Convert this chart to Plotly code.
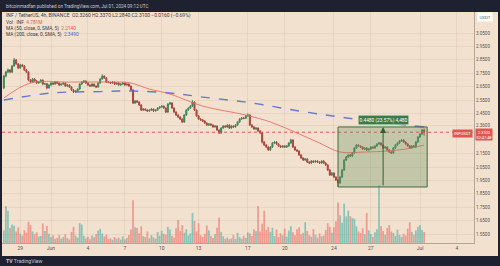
import pandas as pd
import plotly.graph_objects as go

# ---------------- data ----------------
times = pd.date_range("2024-05-28 04:00", periods=206, freq="4h")

opens = [
    2.640, 2.729, 2.759, 2.774, 2.759, 2.804, 2.849, 2.819, 2.789, 2.811,
    2.804, 2.774, 2.759, 2.699, 2.684, 2.707, 2.692, 2.677, 2.684, 2.699,
    2.669, 2.672, 2.640, 2.662, 2.677, 2.669, 2.684, 2.677, 2.662, 2.669,
    2.677, 2.654, 2.662, 2.647, 2.625, 2.610, 2.617, 2.632, 2.669, 2.684,
    2.692, 2.677, 2.662, 2.654, 2.669, 2.654, 2.647, 2.677, 2.707, 2.729,
    2.714, 2.684, 2.681, 2.677, 2.684, 2.669, 2.677, 2.662, 2.669, 2.677,
    2.662, 2.669, 2.654, 2.625, 2.528, 2.543, 2.535, 2.513, 2.475, 2.483,
    2.475, 2.468, 2.475, 2.483, 2.468, 2.475, 2.490, 2.498, 2.505, 2.490,
    2.460, 2.520, 2.528, 2.490, 2.460, 2.438, 2.423, 2.408, 2.386, 2.438,
    2.475, 2.490, 2.505, 2.535, 2.475, 2.431, 2.408, 2.401, 2.393, 2.378,
    2.363, 2.371, 2.363, 2.349, 2.356, 2.326, 2.304, 2.341, 2.356, 2.349,
    2.363, 2.341, 2.356, 2.349, 2.363, 2.386, 2.408, 2.416, 2.413, 2.431,
    2.438, 2.363, 2.349, 2.334, 2.341, 2.319, 2.304, 2.237, 2.214, 2.199,
    2.177, 2.199, 2.229, 2.237, 2.222, 2.207, 2.199, 2.207, 2.199, 2.207,
    2.229, 2.252, 2.199, 2.177, 2.169, 2.140, 2.117, 2.102, 2.110, 2.087,
    2.080, 2.095, 2.087, 2.095, 2.087, 2.080, 2.095, 2.080, 2.065, 2.028,
    1.990, 2.005, 1.975, 1.953, 1.931, 1.975, 2.028, 2.102, 2.125, 2.140,
    2.132, 2.155, 2.192, 2.214, 2.207, 2.199, 2.184, 2.192, 2.177, 2.184,
    2.199, 2.192, 2.207, 2.222, 2.229, 2.214, 2.192, 2.199, 2.177, 2.162,
    2.155, 2.192, 2.214, 2.229, 2.244, 2.252, 2.237, 2.222, 2.207, 2.192,
    2.207, 2.199, 2.237, 2.274, 2.296, 2.326,
]
closes = [
    2.729, 2.759, 2.774, 2.759, 2.804, 2.849, 2.819, 2.789, 2.811, 2.804,
    2.774, 2.759, 2.699, 2.684, 2.707, 2.692, 2.677, 2.684, 2.699, 2.669,
    2.672, 2.640, 2.662, 2.677, 2.669, 2.684, 2.677, 2.662, 2.669, 2.677,
    2.654, 2.662, 2.647, 2.625, 2.610, 2.617, 2.632, 2.669, 2.684, 2.692,
    2.677, 2.662, 2.654, 2.669, 2.654, 2.647, 2.677, 2.707, 2.729, 2.714,
    2.684, 2.681, 2.677, 2.684, 2.669, 2.677, 2.662, 2.669, 2.677, 2.662,
    2.669, 2.654, 2.625, 2.528, 2.543, 2.535, 2.513, 2.475, 2.483, 2.475,
    2.468, 2.475, 2.483, 2.468, 2.475, 2.490, 2.498, 2.505, 2.490, 2.460,
    2.520, 2.528, 2.490, 2.460, 2.438, 2.423, 2.408, 2.386, 2.438, 2.475,
    2.490, 2.505, 2.535, 2.475, 2.431, 2.408, 2.401, 2.393, 2.378, 2.363,
    2.371, 2.363, 2.349, 2.356, 2.326, 2.304, 2.341, 2.356, 2.349, 2.363,
    2.341, 2.356, 2.349, 2.363, 2.386, 2.408, 2.416, 2.413, 2.431, 2.438,
    2.363, 2.349, 2.334, 2.341, 2.319, 2.304, 2.237, 2.214, 2.199, 2.177,
    2.199, 2.229, 2.237, 2.222, 2.207, 2.199, 2.207, 2.199, 2.207, 2.229,
    2.252, 2.199, 2.177, 2.169, 2.140, 2.117, 2.102, 2.110, 2.087, 2.080,
    2.095, 2.087, 2.095, 2.087, 2.080, 2.095, 2.080, 2.065, 2.028, 1.990,
    2.005, 1.975, 1.953, 1.931, 1.975, 2.028, 2.102, 2.125, 2.140, 2.132,
    2.155, 2.192, 2.214, 2.207, 2.199, 2.184, 2.192, 2.177, 2.184, 2.199,
    2.192, 2.207, 2.222, 2.229, 2.214, 2.192, 2.199, 2.177, 2.162, 2.155,
    2.192, 2.214, 2.229, 2.244, 2.252, 2.237, 2.222, 2.207, 2.192, 2.207,
    2.199, 2.237, 2.274, 2.296, 2.326, 2.310,
]
highs = [
    2.738, 2.768, 2.786, 2.781, 2.812, 2.864, 2.856, 2.826, 2.820, 2.818,
    2.810, 2.781, 2.764, 2.706, 2.714, 2.713, 2.699, 2.689, 2.706, 2.703,
    2.679, 2.676, 2.668, 2.683, 2.682, 2.690, 2.689, 2.681, 2.674, 2.683,
    2.682, 2.668, 2.667, 2.652, 2.630, 2.622, 2.636, 2.675, 2.691, 2.699,
    2.697, 2.682, 2.667, 2.675, 2.673, 2.660, 2.683, 2.713, 2.742, 2.734,
    2.719, 2.691, 2.687, 2.690, 2.689, 2.683, 2.681, 2.674, 2.682, 2.681,
    2.675, 2.674, 2.659, 2.630, 2.550, 2.551, 2.541, 2.519, 2.490, 2.488,
    2.481, 2.480, 2.489, 2.487, 2.480, 2.496, 2.503, 2.511, 2.509, 2.495,
    2.526, 2.536, 2.533, 2.496, 2.466, 2.444, 2.429, 2.414, 2.443, 2.481,
    2.496, 2.511, 2.549, 2.541, 2.480, 2.437, 2.414, 2.407, 2.399, 2.383,
    2.377, 2.376, 2.368, 2.361, 2.360, 2.331, 2.347, 2.362, 2.361, 2.369,
    2.368, 2.362, 2.361, 2.369, 2.392, 2.414, 2.422, 2.421, 2.437, 2.449,
    2.443, 2.369, 2.355, 2.347, 2.346, 2.325, 2.309, 2.243, 2.220, 2.205,
    2.205, 2.235, 2.243, 2.244, 2.228, 2.213, 2.213, 2.212, 2.213, 2.235,
    2.260, 2.257, 2.205, 2.183, 2.174, 2.146, 2.122, 2.116, 2.115, 2.093,
    2.101, 2.100, 2.100, 2.101, 2.092, 2.100, 2.101, 2.086, 2.070, 2.034,
    2.012, 2.011, 1.981, 1.959, 1.982, 2.035, 2.110, 2.132, 2.147, 2.146,
    2.161, 2.199, 2.222, 2.220, 2.212, 2.205, 2.198, 2.197, 2.190, 2.205,
    2.204, 2.213, 2.228, 2.236, 2.234, 2.219, 2.205, 2.204, 2.183, 2.167,
    2.198, 2.220, 2.235, 2.250, 2.259, 2.258, 2.242, 2.228, 2.213, 2.213,
    2.213, 2.243, 2.280, 2.303, 2.334, 2.337,
]
lows = [
    2.632, 2.720, 2.751, 2.750, 2.752, 2.798, 2.812, 2.781, 2.782, 2.797,
    2.767, 2.751, 2.690, 2.676, 2.679, 2.686, 2.670, 2.671, 2.679, 2.661,
    2.663, 2.633, 2.636, 2.657, 2.664, 2.665, 2.671, 2.656, 2.657, 2.664,
    2.649, 2.650, 2.641, 2.618, 2.602, 2.604, 2.612, 2.627, 2.664, 2.678,
    2.671, 2.656, 2.648, 2.650, 2.649, 2.640, 2.642, 2.671, 2.701, 2.708,
    2.678, 2.675, 2.670, 2.672, 2.663, 2.664, 2.657, 2.657, 2.664, 2.656,
    2.657, 2.649, 2.619, 2.520, 2.521, 2.529, 2.506, 2.468, 2.469, 2.469,
    2.462, 2.463, 2.470, 2.462, 2.464, 2.470, 2.485, 2.493, 2.485, 2.453,
    2.455, 2.514, 2.484, 2.454, 2.431, 2.416, 2.401, 2.379, 2.380, 2.432,
    2.469, 2.484, 2.499, 2.469, 2.425, 2.402, 2.395, 2.387, 2.372, 2.357,
    2.357, 2.358, 2.343, 2.344, 2.320, 2.296, 2.298, 2.336, 2.343, 2.344,
    2.335, 2.336, 2.343, 2.344, 2.357, 2.380, 2.402, 2.407, 2.408, 2.425,
    2.357, 2.343, 2.328, 2.328, 2.313, 2.298, 2.226, 2.207, 2.192, 2.170,
    2.171, 2.193, 2.223, 2.216, 2.201, 2.193, 2.193, 2.193, 2.193, 2.201,
    2.223, 2.193, 2.171, 2.163, 2.133, 2.110, 2.096, 2.097, 2.081, 2.073,
    2.074, 2.081, 2.081, 2.082, 2.074, 2.075, 2.074, 2.059, 2.021, 1.983,
    1.984, 1.969, 1.946, 1.901, 1.924, 1.968, 2.021, 2.096, 2.118, 2.125,
    2.126, 2.149, 2.186, 2.201, 2.193, 2.178, 2.179, 2.170, 2.171, 2.178,
    2.186, 2.186, 2.201, 2.216, 2.208, 2.186, 2.186, 2.171, 2.156, 2.148,
    2.149, 2.186, 2.208, 2.223, 2.238, 2.231, 2.216, 2.201, 2.186, 2.186,
    2.193, 2.193, 2.231, 2.268, 2.290, 2.284,
]
volumes = [  # millions
    5.5, 16.0, 14.0, 6.5, 8.0, 7.5, 5.0, 6.8, 4.0, 3.2,
    5.5, 4.5, 9.2, 7.8, 5.0, 3.8, 4.6, 2.8, 3.0, 8.5,
    5.2, 7.5, 4.0, 2.5, 3.4, 1.8, 2.2, 3.5, 1.9, 2.6,
    3.8, 2.1, 1.5, 4.8, 7.0, 3.2, 2.4, 8.6, 8.0, 3.1,
    2.0, 2.7, 1.6, 3.3, 2.5, 3.9, 5.4, 6.2, 4.1, 2.8,
    3.6, 1.7, 2.0, 1.4, 2.6, 1.8, 2.3, 1.5, 2.9, 1.6,
    2.2, 3.5, 6.0, 18.5, 6.8, 6.5, 4.2, 7.2, 3.0, 2.6,
    5.0, 2.1, 3.4, 2.5, 1.9, 4.8, 3.2, 5.3, 4.0, 3.6,
    7.0, 5.8, 3.1, 2.4, 6.4, 10.0, 5.2, 7.8, 4.5, 6.0,
    3.3, 4.2, 13.0, 9.5, 5.0, 8.5, 3.4, 2.6, 4.0, 7.6,
    5.5, 3.0, 2.2, 3.8, 6.6, 11.0, 4.8, 2.9, 1.8, 2.4,
    1.6, 2.0, 3.5, 1.7, 4.4, 2.5, 1.9, 3.1, 2.2, 4.6,
    4.2, 3.0, 6.0, 5.1, 16.0, 5.0, 8.4, 14.0, 5.6, 7.0,
    4.8, 6.6, 3.0, 5.8, 2.6, 4.2, 3.3, 6.2, 2.8, 5.4,
    7.3, 4.6, 3.5, 5.9, 6.8, 3.8, 4.4, 9.0, 5.2, 3.4,
    2.7, 6.0, 3.6, 2.3, 4.1, 2.9, 3.2, 5.6, 8.6, 7.0,
    4.5, 6.8, 9.4, 17.5, 12.0, 8.8, 17.0, 11.5, 14.0, 11.6,
    10.8, 10.5, 7.2, 5.0, 4.3, 6.4, 3.8, 13.0, 5.5, 3.9,
    2.7, 4.6, 6.0, 25.0, 7.4, 5.2, 3.6, 6.5, 7.8, 5.0,
    4.4, 3.1, 5.8, 3.5, 2.6, 4.0, 3.2, 6.2, 9.0, 4.8,
    3.6, 5.5, 7.0, 7.8, 5.6, 4.781,
]

ma50_dates = ["2024-05-28 04:00", "2024-05-30 08:00", "2024-06-02 12:00", "2024-06-05 20:00",
              "2024-06-07 08:00", "2024-06-09 00:00", "2024-06-10 16:00", "2024-06-13 08:00",
              "2024-06-16 20:00", "2024-06-18 20:00", "2024-06-21 00:00", "2024-06-22 20:00",
              "2024-06-24 12:00", "2024-06-26 12:00", "2024-06-28 08:00", "2024-06-29 20:00",
              "2024-07-01 08:00"]
ma50_vals = [2.565, 2.677, 2.684, 2.684, 2.680, 2.632, 2.595, 2.505,
             2.438, 2.386, 2.304, 2.229, 2.162, 2.162, 2.169, 2.184, 2.214]

ma200_dates = ["2024-05-28 04:00", "2024-06-01 00:00", "2024-06-05 00:00", "2024-06-07 16:00",
               "2024-06-10 16:00", "2024-06-13 08:00", "2024-06-17 08:00", "2024-06-21 04:00",
               "2024-06-24 12:00", "2024-06-27 16:00", "2024-07-01 08:00"]
ma200_vals = [2.550, 2.602, 2.613, 2.617, 2.602, 2.572, 2.528, 2.468, 2.423, 2.386, 2.349]

price_ticks = [3.05, 2.95, 2.85, 2.75, 2.65, 2.55, 2.45, 2.36, 2.15, 2.05, 1.95, 1.85, 1.75, 1.65, 1.55]
price_labels = [f"{v:.4f}" for v in price_ticks]

date_ticks = ["2024-05-29 12:00", "2024-06-01 00:00", "2024-06-04 00:00", "2024-06-07 00:00",
              "2024-06-10 00:00", "2024-06-13 00:00", "2024-06-17 00:00", "2024-06-20 00:00",
              "2024-06-24 00:00", "2024-06-27 00:00", "2024-07-01 00:00", "2024-07-04 00:00"]
date_labels = ["29", "Jun", "4", "7", "10", "13", "17", "20", "24", "27", "Jul", "4"]

box_start, box_end = "2024-06-24 08:00", "2024-07-01 14:00"
box_low, box_high = 1.901, 2.349
arrow_date = "2024-06-28 00:00"

# ---------------- styling ----------------
BG = "#f3e1d0"
DARK = "#1d2130"
UP, DOWN = "#3c8559", "#ab453c"
FONT = "Roboto"
TXT = "#3a3a3a"

# pixel layout helpers (plot area: x 2..474, y 12..243)
W_PLOT, H_PLOT = 472, 231
def px_x(px):
    return (px - 2) / W_PLOT
def px_y(py):
    return (243 - py) / H_PLOT

fig = go.Figure()

vol_colors = ["rgba(38,166,154,0.5)" if c >= o else "rgba(239,83,80,0.5)"
              for o, c in zip(opens, closes)]
fig.add_trace(go.Bar(x=times, y=volumes, marker=dict(color=vol_colors, line=dict(width=0)),
                     yaxis="y", hoverinfo="skip", showlegend=False))

fig.add_trace(go.Candlestick(
    x=times, open=opens, high=highs, low=lows, close=closes, yaxis="y2",
    increasing=dict(line=dict(color=UP, width=1), fillcolor=UP),
    decreasing=dict(line=dict(color=DOWN, width=1), fillcolor=DOWN),
    whiskerwidth=0, showlegend=False, hoverinfo="skip"))

fig.add_trace(go.Scatter(x=ma50_dates, y=ma50_vals, mode="lines", yaxis="y2",
                         line=dict(color="rgba(232,105,95,0.85)", width=1, shape="spline"),
                         showlegend=False, hoverinfo="skip"))
fig.add_trace(go.Scatter(x=ma200_dates, y=ma200_vals, mode="lines", yaxis="y2",
                         line=dict(color="rgba(80,100,215,0.85)", width=1.4, dash="dash", shape="spline"),
                         showlegend=False, hoverinfo="skip"))

last_o, last_h, last_l, last_c = opens[-1], highs[-1], lows[-1], closes[-1]
chg = last_c - closes[-2]
pct = chg / closes[-2] * 100

shapes = [
    dict(type="rect", xref="paper", yref="paper", x0=0, x1=px_x(498), y0=px_y(256), y1=1,
         fillcolor=BG, line=dict(width=0), layer="below"),
    dict(type="line", xref="paper", yref="y2", x0=0, x1=1, y0=last_c, y1=last_c,
         line=dict(color="#e0574f", width=1, dash="dot")),
    dict(type="rect", xref="x", yref="y2", x0=box_start, x1=box_end, y0=box_low, y1=box_high,
         fillcolor="rgba(105,148,95,0.35)", line=dict(color="#3c6e3c", width=1)),
]

rng = box_high - box_low
annotations = [
    dict(xref="paper", yref="paper", x=px_x(4), y=px_y(6), xanchor="left", yanchor="middle",
         text="bitcoinmadfan published on TradingView.com, Jul 01, 2024 09:12 UTC",
         showarrow=False, font=dict(family=FONT, size=4.6, color="#c8cad2")),
    dict(xref="paper", yref="paper", x=px_x(4), y=px_y(16), xanchor="left", yanchor="middle",
         text=(f"INF / TetherUS, 4h, BINANCE  O{last_o:.4f} H{last_h:.4f} L{last_l:.4f} "
               f"C{last_c:.4f} {chg:+.4f} ({pct:+.2f}%)").replace("-", "\u2212"),
         showarrow=False, font=dict(family=FONT, size=5, color=TXT)),
    dict(xref="paper", yref="paper", x=px_x(4), y=px_y(22.5), xanchor="left", yanchor="middle",
         text=f"Vol · INF  <span style='color:#e0574f'>{volumes[-1]:.3f}M</span>",
         showarrow=False, font=dict(family=FONT, size=4.8, color=TXT)),
    dict(xref="paper", yref="paper", x=px_x(4), y=px_y(28.5), xanchor="left", yanchor="middle",
         text=f"MA (50, close, 0, SMA, 5)  <span style='color:#e0574f'>{ma50_vals[-1]:.4f}</span>",
         showarrow=False, font=dict(family=FONT, size=4.8, color=TXT)),
    dict(xref="paper", yref="paper", x=px_x(4), y=px_y(34.5), xanchor="left", yanchor="middle",
         text=f"MA (200, close, 0, SMA, 5)  <span style='color:#4f62d0'>{ma200_vals[-1]:.4f}</span>",
         showarrow=False, font=dict(family=FONT, size=4.8, color=TXT)),
    dict(xref="paper", yref="paper", x=px_x(4), y=px_y(261), xanchor="left", yanchor="middle",
         text="<b>TV</b> TradingView", showarrow=False,
         font=dict(family=FONT, size=5.2, color="#c8cad2")),
    dict(xref="paper", yref="paper", x=px_x(485), y=px_y(17), xanchor="center", yanchor="middle",
         text="USDT", showarrow=False, bgcolor="#ffffff", borderpad=1.5,
         font=dict(family=FONT, size=4.4, color="#555")),
    dict(xref="paper", yref="y2", x=px_x(475), y=last_c, xanchor="left", yanchor="middle",
         yshift=-2, text=f"{last_c:.4f}<br>02:47:48", showarrow=False, bgcolor="#e0574f",
         borderpad=0.5, font=dict(family=FONT, size=3.9, color="#ffffff")),
    dict(xref="paper", yref="y2", x=px_x(473), y=last_c, xanchor="right", yanchor="middle",
         yshift=-1, text="INFUSDT", showarrow=False, bgcolor="#e0574f", borderpad=1,
         font=dict(family=FONT, size=4.2, color="#ffffff")),
    dict(xref="x", yref="y2", axref="x", ayref="y2", x=arrow_date, y=box_high,
         ax=arrow_date, ay=box_low, text="", showarrow=True, arrowhead=2, arrowsize=1.2,
         arrowwidth=1, arrowcolor="#2f5f33"),
    dict(xref="x", yref="y2", x=arrow_date, y=box_high, yanchor="bottom", yshift=2,
         text=f"{rng:.4f} ({rng / box_low * 100:.2f}%) {round(rng * 10000):,}",
         showarrow=False, bgcolor="#3e7a45", bordercolor="#cfe2c8", borderwidth=0.5, borderpad=1,
         font=dict(family=FONT, size=4.8, color="#ffffff")),
]

fig.update_layout(
    width=500, height=266,
    margin=dict(l=2, r=26, t=12, b=23, pad=0),
    paper_bgcolor=DARK, plot_bgcolor=BG,
    font=dict(family=FONT, size=5, color="#555"),
    showlegend=False, bargap=0.15,
    shapes=shapes, annotations=annotations,
    xaxis=dict(type="date", range=["2024-05-28 00:23", "2024-07-05 09:21"],
               rangeslider=dict(visible=False),
               tickvals=date_ticks, ticktext=date_labels,
               tickfont=dict(family=FONT, size=5, color="#555"), ticks="", ticklen=0,
               showgrid=True, gridcolor="rgba(175,155,135,0.18)", gridwidth=1,
               showline=True, linecolor="#b5a595", linewidth=1, zeroline=False, fixedrange=True),
    yaxis=dict(range=[0, 100], visible=False, fixedrange=True),
    yaxis2=dict(overlaying="y", side="right", range=[1.483, 3.207],
                tickvals=price_ticks, ticktext=price_labels,
                tickfont=dict(family=FONT, size=4.6, color="#555"), ticks="", ticklen=0,
                showgrid=True, gridcolor="rgba(175,155,135,0.15)", gridwidth=1,
                showline=True, linecolor="#b5a595", linewidth=1, zeroline=False, fixedrange=True),
)

fig.write_html("out.html")
